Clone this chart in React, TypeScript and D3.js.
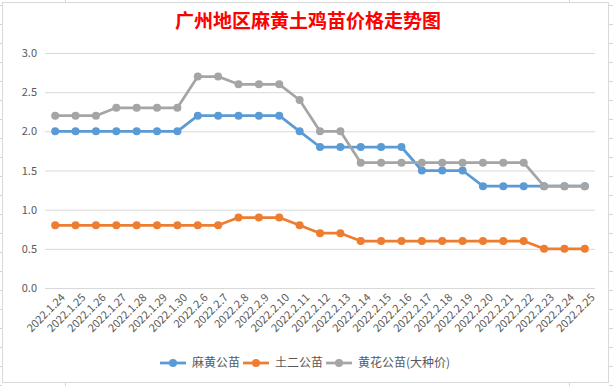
import React, { useEffect, useRef } from "react";
import * as d3 from "d3";

const dates = [
  "2022.1.24", "2022.1.25", "2022.1.26", "2022.1.27", "2022.1.28", "2022.1.29",
  "2022.1.30", "2022.2.6", "2022.2.7", "2022.2.8", "2022.2.9", "2022.2.10",
  "2022.2.11", "2022.2.12", "2022.2.13", "2022.2.14", "2022.2.15", "2022.2.16",
  "2022.2.17", "2022.2.18", "2022.2.19", "2022.2.20", "2022.2.21", "2022.2.22",
  "2022.2.23", "2022.2.24", "2022.2.25",
];

const mahuang = [
  2.0, 2.0, 2.0, 2.0, 2.0, 2.0, 2.0, 2.2, 2.2, 2.2, 2.2, 2.2, 2.0, 1.8, 1.8,
  1.8, 1.8, 1.8, 1.5, 1.5, 1.5, 1.3, 1.3, 1.3, 1.3, 1.3, 1.3,
];
const tuer = [
  0.8, 0.8, 0.8, 0.8, 0.8, 0.8, 0.8, 0.8, 0.8, 0.9, 0.9, 0.9, 0.8, 0.7, 0.7,
  0.6, 0.6, 0.6, 0.6, 0.6, 0.6, 0.6, 0.6, 0.6, 0.5, 0.5, 0.5,
];
const huanghua = [
  2.2, 2.2, 2.2, 2.3, 2.3, 2.3, 2.3, 2.7, 2.7, 2.6, 2.6, 2.6, 2.4, 2.0, 2.0,
  1.6, 1.6, 1.6, 1.6, 1.6, 1.6, 1.6, 1.6, 1.6, 1.3, 1.3, 1.3,
];

const yTicks = [0, 0.5, 1.0, 1.5, 2.0, 2.5, 3.0];

const series = [
  { name: "麻黄公苗", values: mahuang, color: "#5B9BD5" },
  { name: "土二公苗", values: tuer, color: "#ED7D31" },
  { name: "黄花公苗(大种价)", values: huanghua, color: "#A5A5A5" },
];

const title = "广州地区麻黄土鸡苗价格走势图";

function App() {
  const ref = useRef<SVGSVGElement>(null);
  const width = 613;
  const height = 386;
  const marginTop = 53;
  const marginRight = 18;
  const marginBottom = 98;
  const marginLeft = 45;
  const font = "'Noto Sans CJK SC', 'Liberation Sans', sans-serif";

  useEffect(() => {
    const svg = d3.select(ref.current);
    svg.selectAll("*").remove();

    // spreadsheet cells peeking out round the chart
    const bg = svg.append("g").attr("stroke", "#d4d4d4").attr("stroke-width", 1);
    for (let yy = 5; yy < height; yy += 19) {
      bg.append("line").attr("x1", 0).attr("x2", 2).attr("y1", yy + 0.5).attr("y2", yy + 0.5);
      bg.append("line").attr("x1", 609).attr("x2", width).attr("y1", yy + 0.5).attr("y2", yy + 0.5);
    }
    [65.5, 569.5].forEach((xx) => {
      bg.append("line").attr("x1", xx).attr("x2", xx).attr("y1", 0).attr("y2", 3);
      bg.append("line").attr("x1", xx).attr("x2", xx).attr("y1", 383).attr("y2", height);
    });

    // chart frame
    svg
      .append("rect")
      .attr("x", 2.5)
      .attr("y", 2.5)
      .attr("width", 606)
      .attr("height", 380)
      .attr("fill", "#fff")
      .attr("stroke", "#d9d9d9");

    svg
      .append("text")
      .attr("x", 308)
      .attr("y", 28)
      .attr("text-anchor", "middle")
      .attr("font-family", font)
      .attr("font-weight", "bold")
      .attr("font-size", 19)
      .attr("fill", "#FF0000")
      .text(title);

    const x = d3
      .scalePoint<string>()
      .domain(dates)
      .range([marginLeft, width - marginRight])
      .padding(0.5);

    const y = d3
      .scaleLinear()
      .domain([0, 3])
      .range([height - marginBottom, marginTop]);

    // y axis with gridlines
    svg
      .append("g")
      .attr("transform", `translate(${marginLeft},0)`)
      .call(
        d3
          .axisLeft(y)
          .tickValues(yTicks)
          .tickFormat(d3.format(".1f"))
          .tickSize(-(width - marginLeft - marginRight))
          .tickPadding(8)
      )
      .call((g) => g.select(".domain").remove())
      .call((g) =>
        g.selectAll(".tick line").attr("stroke", "#d9d9d9").attr("stroke-width", 1)
      )
      .call((g) =>
        g
          .selectAll(".tick text")
          .attr("fill", "#595959")
          .attr("font-size", 11)
          .attr("font-family", font)
      );

    // x axis labels, rotated
    svg
      .append("g")
      .attr("transform", `translate(0,${height - marginBottom})`)
      .call(d3.axisBottom(x).tickSize(0).tickPadding(6))
      .call((g) => g.select(".domain").remove())
      .call((g) =>
        g
          .selectAll(".tick text")
          .attr("fill", "#595959")
          .attr("font-size", 11)
          .attr("font-family", font)
          .attr("text-anchor", "end")
          .attr("dy", null)
          .attr("transform", "translate(6,6) rotate(-45)")
      );

    const line = d3
      .line<number>()
      .x((_, i) => x(dates[i]) as number)
      .y((d) => y(d));

    series.forEach((s) => {
      const g = svg.append("g");
      g.append("path")
        .datum(s.values)
        .attr("fill", "none")
        .attr("stroke", s.color)
        .attr("stroke-width", 2.75)
        .attr("stroke-linejoin", "round")
        .attr("d", line);
      g.selectAll("circle")
        .data(s.values)
        .join("circle")
        .attr("cx", (_, i) => x(dates[i]) as number)
        .attr("cy", (d) => y(d))
        .attr("r", 4)
        .attr("fill", s.color);
    });

    // legend
    const legendX = [160, 243, 326];
    const legend = svg.append("g").attr("transform", "translate(0,363)");
    series.forEach((s, i) => {
      const item = legend.append("g").attr("transform", `translate(${legendX[i]},0)`);
      item
        .append("line")
        .attr("x1", 0)
        .attr("x2", 26)
        .attr("stroke", s.color)
        .attr("stroke-width", 2.75);
      item.append("circle").attr("cx", 13).attr("r", 4).attr("fill", s.color);
      item
        .append("text")
        .attr("x", 32)
        .attr("dy", "0.35em")
        .attr("font-size", 12)
        .attr("font-family", font)
        .attr("fill", "#595959")
        .text(s.name);
    });
  }, []);

  return (
    <div style={{ position: "absolute", left: 0, top: 0 }}>
      <svg ref={ref} width={width} height={height} style={{ display: "block" }}></svg>
    </div>
  );
}

export default App;
